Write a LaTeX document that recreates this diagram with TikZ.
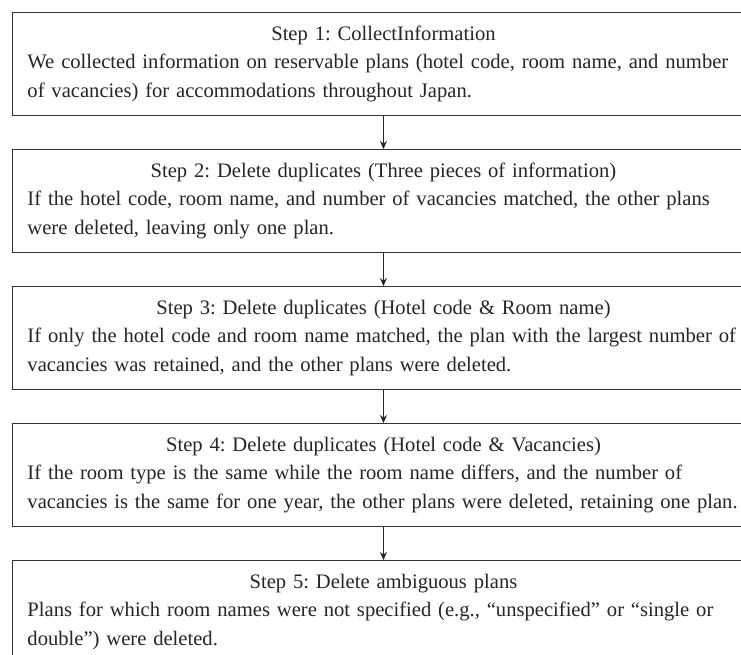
\documentclass[tikz,border=0pt]{standalone}
\usepackage{fontspec}
\setmainfont{Liberation Serif}
\usetikzlibrary{arrows.meta}
\begin{document}
\frenchspacing
\begin{tikzpicture}[x=1pt,y=-1pt,
  stepbox/.style={draw=black!80, line width=0.9pt, rectangle, anchor=north west,
    minimum width=742pt, minimum height=103pt, inner xsep=15pt, inner ysep=0pt,
    text width=712pt, align=left, font=\fontsize{20.6}{28.5}\selectfont\frenchspacing, text=black!85},
  flowarrow/.style={draw=black!85, line width=0.9pt, -{Stealth[length=8pt,width=7pt]}}]
\useasboundingbox (0,0) rectangle (741,654);
\fill[white] (0,0) rectangle (741,654);
\node[stepbox] (s1) at (12,12) {\makebox[\linewidth][c]{Step 1: CollectInformation}\\
We collected information on reservable plans (hotel code, room name, and number\\
of vacancies) for accommodations throughout Japan.};
\node[stepbox] (s2) at (12,149) {\makebox[\linewidth][c]{Step 2: Delete duplicates (Three pieces of information)}\\
If the hotel code, room name, and number of vacancies matched, the other plans\\
were deleted, leaving only one plan.};
\node[stepbox] (s3) at (12,286) {\makebox[\linewidth][c]{Step 3: Delete duplicates (Hotel code \& Room name)}\\
If only the hotel code and room name matched, the plan with the largest number of\\
vacancies was retained, and the other plans were deleted.};
\node[stepbox] (s4) at (12,423) {\makebox[\linewidth][c]{Step 4: Delete duplicates (Hotel code \& Vacancies)}\\
If the room type is the same while the room name differs, and the number of\\
vacancies is the same for one year, the other plans were deleted, retaining one plan.};
\node[stepbox] (s5) at (12,560) {\makebox[\linewidth][c]{Step 5: Delete ambiguous plans}\\
Plans for which room names were not specified (e.g., “unspecified” or “single or\\
double”) were deleted.};
\draw[flowarrow] (s1.south) -- (s2.north);
\draw[flowarrow] (s2.south) -- (s3.north);
\draw[flowarrow] (s3.south) -- (s4.north);
\draw[flowarrow] (s4.south) -- (s5.north);
\end{tikzpicture}
\end{document}
